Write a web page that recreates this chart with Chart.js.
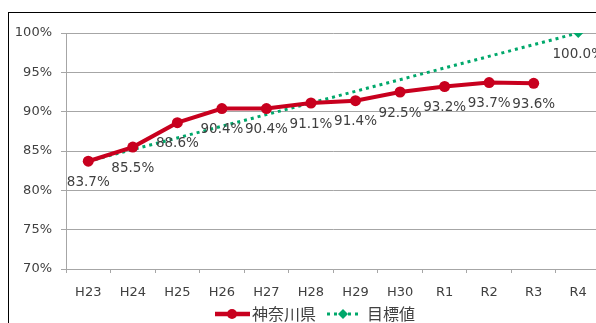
<!DOCTYPE html>
<html>
<head>
<meta charset="utf-8">
<script src="https://cdn.jsdelivr.net/npm/chart.js@4.4.0/dist/chart.umd.min.js"></script>
<style>
  html, body { margin: 0; padding: 0; background: #fff; overflow: hidden; width: 596px; height: 323px; }
  #frame { position: absolute; left: 8px; top: 12px; width: 700px; height: 400px; border: 1px solid #000; box-sizing: border-box; }
  #chart { position: absolute; left: 0; top: 0; }
</style>
</head>
<body>
<div id="frame"></div>
<canvas id="chart" width="606" height="323"></canvas>
<script>
const years = ['H23', 'H24', 'H25', 'H26', 'H27', 'H28', 'H29', 'H30', 'R1', 'R2', 'R3', 'R4'];
const kanagawa = [83.7, 85.5, 88.6, 90.4, 90.4, 91.1, 91.4, 92.5, 93.2, 93.7, 93.6, null];
const target = [83.7, null, null, null, null, null, null, null, null, null, null, 100.0];
const yTicks = [70, 75, 80, 85, 90, 95, 100];

const RED = '#c8001e';
const GREEN = '#00a86b';
const TEXT = '#404040';
const FONT = '"DejaVu Sans", "Noto Sans CJK JP", sans-serif';

// value labels under the points
const valueLabels = {
    id: 'valueLabels',
    afterDatasetsDraw(chart) {
        const ctx = chart.ctx;
        ctx.save();
        ctx.fillStyle = TEXT;
        ctx.font = '13.5px ' + FONT;
        ctx.textAlign = 'center';
        ctx.textBaseline = 'middle';
        chart.data.datasets.forEach((ds, di) => {
            const meta = chart.getDatasetMeta(di);
            meta.data.forEach((pt, i) => {
                const v = ds.data[i];
                if (v === null) return;
                // the target's first point sits on the actual value, label once
                if (di === 1 && kanagawa[i] === v) return;
                ctx.fillText(v.toFixed(1) + '%', pt.x, pt.y + 21);
            });
        });
        ctx.restore();
    }
};

// legend with line + marker swatches
const lineLegend = {
    id: 'lineLegend',
    afterDraw(chart) {
        const ctx = chart.ctx;
        const y = 314;
        ctx.save();
        // 神奈川県
        ctx.strokeStyle = RED;
        ctx.lineWidth = 4.5;
        ctx.beginPath();
        ctx.moveTo(215, y);
        ctx.lineTo(250, y);
        ctx.stroke();
        ctx.fillStyle = RED;
        ctx.beginPath();
        ctx.arc(232, y, 5, 0, Math.PI * 2);
        ctx.fill();
        // 目標値
        ctx.strokeStyle = GREEN;
        ctx.lineWidth = 3;
        ctx.setLineDash([3, 4]);
        ctx.beginPath();
        ctx.moveTo(327, y);
        ctx.lineTo(360, y);
        ctx.stroke();
        ctx.setLineDash([]);
        ctx.fillStyle = GREEN;
        ctx.beginPath();
        ctx.moveTo(343, y - 5);
        ctx.lineTo(348, y);
        ctx.lineTo(343, y + 5);
        ctx.lineTo(338, y);
        ctx.closePath();
        ctx.fill();
        ctx.fillStyle = TEXT;
        ctx.font = '16px "Noto Sans CJK JP", sans-serif';
        ctx.textBaseline = 'middle';
        ctx.textAlign = 'left';
        ctx.fillText('神奈川県', 252, y);
        ctx.fillText('目標値', 367, y);
        ctx.restore();
    }
};

const ctx = document.getElementById('chart').getContext('2d');
new Chart(ctx, {
    type: 'line',
    data: {
        labels: years,
        datasets: [{
            label: '神奈川県',
            data: kanagawa,
            borderColor: RED,
            backgroundColor: RED,
            borderWidth: 4,
            pointRadius: 5.5,
            pointBorderWidth: 0,
            pointBackgroundColor: RED,
            tension: 0
        }, {
            label: '目標値',
            data: target,
            spanGaps: true,
            borderColor: GREEN,
            backgroundColor: GREEN,
            borderWidth: 3,
            borderDash: [3, 4],
            pointStyle: 'rectRot',
            pointRadius: 5,
            pointBorderWidth: 0,
            pointBackgroundColor: GREEN,
            tension: 0
        }]
    },
    options: {
        responsive: false,
        animation: false,
        layout: { padding: { top: 33, left: 0, right: 0, bottom: 0 } },
        plugins: {
            legend: { display: false },
            tooltip: { enabled: false }
        },
        scales: {
            y: {
                min: 70,
                max: 100,
                afterFit: (s) => { s.width = 66; },
                afterBuildTicks: (s) => { s.ticks = yTicks.map(v => ({ value: v })); },
                grid: { color: '#a6a6a6', lineWidth: 1, tickLength: 5 },
                border: { color: '#a6a6a6' },
                ticks: {
                    padding: 9,
                    color: TEXT,
                    font: { family: FONT, size: 13 },
                    callback: (v) => v + '%'
                }
            },
            x: {
                offset: true,
                afterFit: (s) => { s.height = 54; },
                grid: { drawOnChartArea: false, color: '#a6a6a6', tickLength: 4, offset: true },
                border: { color: '#a6a6a6' },
                ticks: {
                    padding: 12,
                    color: TEXT,
                    maxRotation: 0,
                    font: { family: FONT, size: 13 }
                }
            }
        }
    },
    plugins: [valueLabels, lineLegend]
});
</script>
</body>
</html>
